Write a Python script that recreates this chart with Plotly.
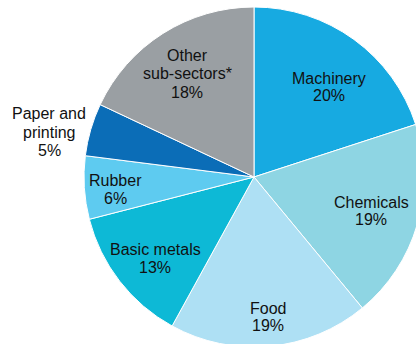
import plotly.graph_objects as go

labels = ["Machinery", "Chemicals", "Food", "Basic metals", "Rubber", "Paper and printing", "Other sub-sectors*"]
values = [20, 19, 19, 13, 6, 5, 18]
colors = ["#17aae1", "#8ed5e3", "#aee0f4", "#0db9d6", "#5ecbf0", "#0b6db7", "#9a9fa3"]
label_lines = [["Machinery", "20%"], ["Chemicals", "19%"], ["Food", "19%"], ["Basic metals", "13%"],
               ["Rubber", "6%"], ["Paper and", "printing", "5%"], ["Other", "sub-sectors*", "18%"]]
# label positions in pixels (layout only): x centre, y of first line, line step
label_px = [(329, 77, 17.5), (371, 201, 17.7), (268, 307, 17.7), (155, 248, 18),
            (115, 179.5, 18.3), (49, 112.5, 18.5), (187, 54, 18.5)]

W, H = 440, 360
cx0, cx1 = 84, 424
cy0, cy1 = 7, 347

fig = go.Figure(go.Pie(
    labels=labels, values=values, sort=False, direction="clockwise", rotation=0,
    marker=dict(colors=colors, line=dict(color="white", width=1)),
    textinfo="none", hoverinfo="label+percent", showlegend=False,
    domain=dict(x=[cx0 / W, cx1 / W], y=[1 - cy1 / H, 1 - cy0 / H]),
))

for lines, (px, py, step) in zip(label_lines, label_px):
    for i, t in enumerate(lines):
        fig.add_annotation(text=t, x=px / W, y=1 - (py + i * step + 1) / H, xref="paper", yref="paper",
                           showarrow=False, xanchor="center", yanchor="middle",
                           font=dict(family="Liberation Sans, Arial, sans-serif", size=16, color="#111111"))

fig.update_layout(width=W, height=H, margin=dict(l=0, r=0, t=0, b=0),
                  paper_bgcolor="white", plot_bgcolor="white")

fig.write_html("out.html", config={"displayModeBar": False},
               post_script="document.body.style.margin='0';document.body.style.overflow='hidden';")
